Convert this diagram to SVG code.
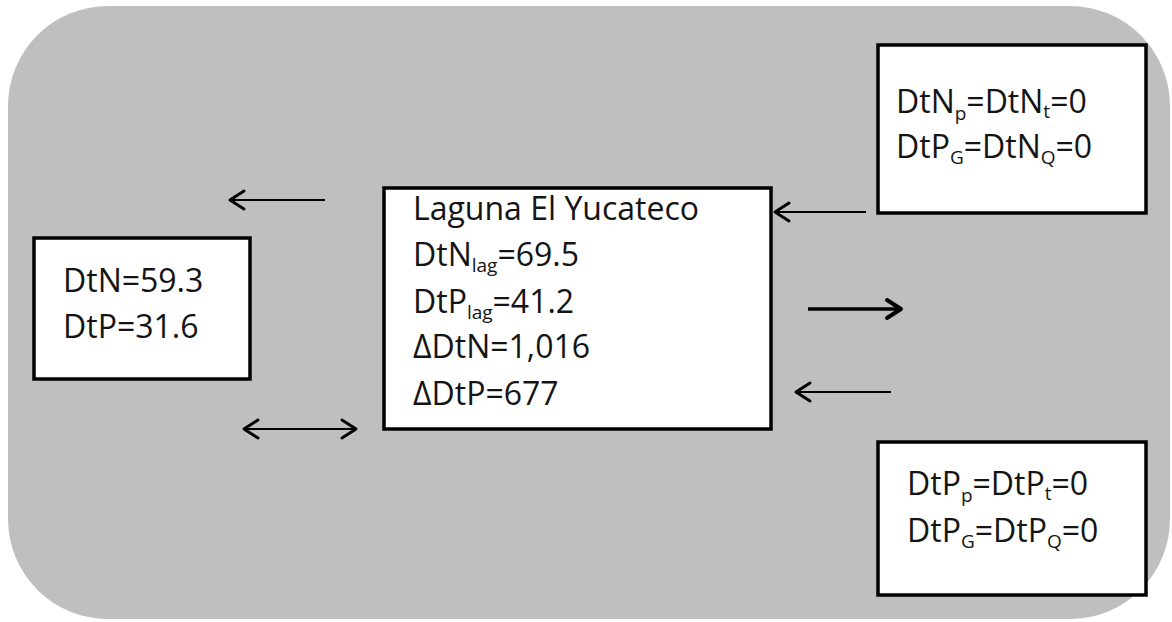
<svg xmlns="http://www.w3.org/2000/svg" width="1172" height="622" viewBox="0 0 1172 622">
<style>
.bg{fill:#bfbfbf;}
.box{fill:#ffffff;stroke:#000;stroke-width:3.5;}
.t{font-family:"Open Sans","Liberation Sans",sans-serif;font-size:32px;fill:#141414;}
.s{font-size:19px;}
.ln{stroke:#000;stroke-width:2.2;fill:none;}
.lnb{stroke:#000;stroke-width:3.6;fill:none;}
</style>
<defs>
<marker id="h" markerUnits="userSpaceOnUse" markerWidth="24" markerHeight="24" viewBox="-18 -12 20 24" refX="0" refY="0" orient="auto-start-reverse">
<path d="M-15,-9 L-1,0 L-15,9" fill="none" stroke="#000" stroke-width="3" stroke-linecap="round" stroke-linejoin="round"/>
</marker>
<marker id="hb" markerUnits="userSpaceOnUse" markerWidth="24" markerHeight="24" viewBox="-18 -12 20 24" refX="0" refY="0" orient="auto-start-reverse">
<path d="M-15,-9 L-1,0 L-15,9" fill="none" stroke="#000" stroke-width="4" stroke-linecap="round" stroke-linejoin="round"/>
</marker>
</defs>
<rect class="bg" x="8" y="6" width="1162" height="613" rx="100" ry="100"/>
<g id="connectors">
<line class="ln" x1="325" y1="200" x2="229" y2="200" marker-end="url(#h)"/>
<line class="ln" x1="243" y1="429" x2="357" y2="429" marker-start="url(#h)" marker-end="url(#h)"/>
<line class="ln" x1="866" y1="212" x2="774" y2="212" marker-end="url(#h)"/>
<line class="lnb" x1="808" y1="309" x2="902" y2="309" marker-end="url(#hb)"/>
<line class="ln" x1="891" y1="392" x2="795" y2="392" marker-end="url(#h)"/>
</g>
<g id="left-box">
<rect class="box" x="34" y="238" width="216" height="141"/>
<text class="t" x="63" y="292">DtN=59.3</text>
<text class="t" x="63" y="338">DtP=31.6</text>
</g>
<g id="lagoon">
<rect class="box" x="384" y="188" width="387" height="241"/>
<text class="t" x="413" y="220">Laguna El Yucateco</text>
<text class="t" x="413" y="266">DtN<tspan class="s" dy="6">lag</tspan><tspan dy="-6">=69.5</tspan></text>
<text class="t" x="413" y="313">DtP<tspan class="s" dy="6">lag</tspan><tspan dy="-6">=41.2</tspan></text>
<text class="t" x="413" y="358">ΔDtN=1,016</text>
<text class="t" x="413" y="405">ΔDtP=677</text>
</g>
<g id="top-right-box">
<rect class="box" x="878" y="45" width="268" height="168"/>
<text class="t" x="896" y="113">DtN<tspan class="s" dy="7">p</tspan><tspan dy="-7">=DtN</tspan><tspan class="s" dy="5">t</tspan><tspan dy="-5">=0</tspan></text>
<text class="t" x="896" y="158">DtP<tspan class="s" dy="6">G</tspan><tspan dy="-6">=DtN</tspan><tspan class="s" dy="6">Q</tspan><tspan dy="-6">=0</tspan></text>
</g>
<g id="bottom-right-box">
<rect class="box" x="878" y="442" width="268" height="153"/>
<text class="t" x="907" y="495">DtP<tspan class="s" dy="7">p</tspan><tspan dy="-7">=DtP</tspan><tspan class="s" dy="5">t</tspan><tspan dy="-5">=0</tspan></text>
<text class="t" x="907" y="542">DtP<tspan class="s" dy="6">G</tspan><tspan dy="-6">=DtP</tspan><tspan class="s" dy="6">Q</tspan><tspan dy="-6">=0</tspan></text>
</g>
</svg>
